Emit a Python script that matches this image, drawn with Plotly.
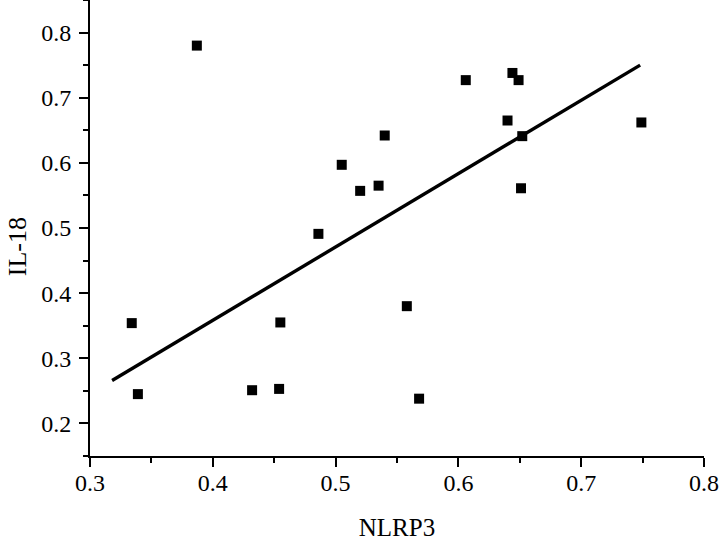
import plotly.graph_objects as go

# Data
nlrp3 = [0.334, 0.339, 0.387, 0.432, 0.454, 0.455, 0.486, 0.505, 0.520, 0.535,
         0.540, 0.558, 0.568, 0.606, 0.640, 0.644, 0.649, 0.652, 0.651, 0.749]
il18 = [0.354, 0.245, 0.780, 0.251, 0.253, 0.355, 0.491, 0.597, 0.557, 0.565,
        0.642, 0.380, 0.238, 0.727, 0.665, 0.738, 0.727, 0.641, 0.561, 0.662]

fit_x = [0.318, 0.748]
fit_y = [0.266, 0.750]

x_ticks = [0.3, 0.4, 0.5, 0.6, 0.7, 0.8]
y_ticks = [0.2, 0.3, 0.4, 0.5, 0.6, 0.7, 0.8]

x_title = "NLRP3"
y_title = "IL-18"

FONT = "Liberation Serif"

fig = go.Figure()
fig.add_trace(go.Scatter(x=fit_x, y=fit_y, mode="lines",
                         line=dict(color="black", width=3.4), showlegend=False,
                         hoverinfo="skip", cliponaxis=False))
fig.add_trace(go.Scatter(x=nlrp3, y=il18, mode="markers",
                         marker=dict(symbol="square", size=10, color="black",
                                     line=dict(width=0)),
                         showlegend=False, cliponaxis=False))

axis_common = dict(
    showline=True, linecolor="black", linewidth=2, mirror=False,
    ticks="outside", ticklen=9, tickwidth=2, tickcolor="black",
    showgrid=False, zeroline=False,
    tickfont=dict(family=FONT, size=24, color="black"),
    minor=dict(ticks="outside", ticklen=5, tickwidth=2, tickcolor="black", dtick=0.05),
)

fig.update_layout(
    width=721, height=543,
    margin=dict(l=90, r=17, t=0, b=87, autoexpand=False),
    paper_bgcolor="white", plot_bgcolor="white",
    font=dict(family=FONT, size=24, color="black"),
    xaxis=dict(range=[0.3, 0.8], tickvals=x_ticks,
               ticktext=[f"{v:.1f}" for v in x_ticks],
               ticklabelstandoff=-5,
               title=dict(text=x_title, font=dict(family=FONT, size=25, color="black"),
                          standoff=24),
               **axis_common),
    yaxis=dict(range=[0.15, 0.85], tickvals=y_ticks,
               ticktext=[f"{v:.1f}" for v in y_ticks],
               ticklabelstandoff=3,
               **axis_common),
    annotations=[dict(text=y_title, xref="paper", yref="paper", x=-0.119, y=0.46,
                      xanchor="center", yanchor="middle", textangle=-90,
                      showarrow=False,
                      font=dict(family=FONT, size=26, color="black"))],
)

fig.write_html(
    "out.html",
    config={"displayModeBar": False},
    post_script="document.body.style.margin='0';document.body.style.overflow='hidden';",
)
